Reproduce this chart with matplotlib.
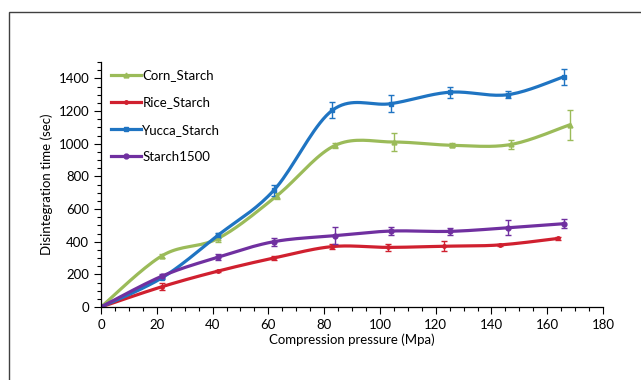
import numpy as np
import matplotlib
matplotlib.use('Agg')
import matplotlib.pyplot as plt
from matplotlib.ticker import MultipleLocator
from matplotlib.patches import Rectangle

plt.rcParams['font.family'] = ['Lato', 'DejaVu Sans']

# ---------------------------------------------------------------- data
corn_x = [0, 22, 42, 63, 84, 105, 126, 147, 168]
corn_y = [0, 315, 420, 680, 990, 1010, 990, 995, 1115]
corn_err = [0, 12, 20, 20, 15, 55, 12, 30, 90]

rice_x = [0, 22, 42, 62, 83, 103, 123, 143, 164]
rice_y = [0, 125, 220, 300, 370, 365, 372, 380, 420]
rice_err = [0, 20, 8, 10, 15, 20, 30, 8, 7]

yucca_x = [0, 22, 42, 62, 83, 104, 125, 146, 166]
yucca_y = [0, 180, 440, 715, 1205, 1245, 1315, 1300, 1410]
yucca_err = [0, 8, 15, 35, 50, 50, 35, 20, 50]

s1500_x = [0, 22, 42, 62, 84, 104, 125, 146, 166]
s1500_y = [0, 190, 305, 400, 437, 465, 463, 485, 510]
s1500_err = [0, 10, 20, 25, 50, 25, 20, 45, 28]

series = [
    ('Corn_Starch', corn_x, corn_y, corn_err, '#9bbb59', '^', 3.5),
    ('Rice_Starch', rice_x, rice_y, rice_err, '#d0202f', 'o', 2.5),
    ('Yucca_Starch', yucca_x, yucca_y, yucca_err, '#1f74c2', 's', 3.5),
    ('Starch1500', s1500_x, s1500_y, s1500_err, '#7030a0', 'o', 3.5),
]


def smooth(x, y, n=20):
    # excel-like smoothed line (catmull-rom through the points)
    x = np.asarray(x, float)
    y = np.asarray(y, float)
    px = np.concatenate([[x[0]], x, [x[-1]]])
    py = np.concatenate([[y[0]], y, [y[-1]]])
    xs, ys = [], []
    t = np.linspace(0, 1, n)
    for i in range(1, len(px) - 2):
        for p, out in ((px, xs), (py, ys)):
            p0, p1, p2, p3 = p[i - 1], p[i], p[i + 1], p[i + 2]
            out.extend(0.5 * ((2 * p1) + (-p0 + p2) * t
                              + (2 * p0 - 5 * p1 + 4 * p2 - p3) * t ** 2
                              + (-p0 + 3 * p1 - 3 * p2 + p3) * t ** 3))
    return xs, ys


fig = plt.figure(figsize=(6.41, 3.80), dpi=100)
fig.patches.append(Rectangle((9 / 641, -0.1), 1.2, 1 - 12 / 380 + 0.1,
                             transform=fig.transFigure, fill=False,
                             edgecolor='#404040', linewidth=1.0))
ax = fig.add_axes([101 / 641, 73 / 380, 502 / 641, 245 / 380])

for name, x, y, err, col, mk, ms in series:
    sx, sy = smooth(x, y)
    ax.plot(sx, sy, color=col, linewidth=2.3, solid_capstyle='round')
    ax.errorbar(x, y, yerr=err, fmt=mk, color=col, markersize=ms,
                ecolor=col, elinewidth=1.0, capsize=2.5, capthick=1.0)
    ax.plot([], [], color=col, linewidth=2.3, marker=mk, markersize=ms, label=name)

ax.set_xlim(0, 180)
ax.set_ylim(0, 1500)
ax.set_xticks(range(0, 181, 20))
ax.set_yticks(range(0, 1401, 200))
ax.xaxis.set_minor_locator(MultipleLocator(5))
ax.yaxis.set_minor_locator(MultipleLocator(50))
ax.tick_params(which='major', direction='out', length=5, width=0.8, labelsize=9.5, colors='black')
ax.tick_params(which='minor', direction='out', length=3, width=0.8)
for s in ['top', 'right']:
    ax.spines[s].set_visible(False)
for s in ['left', 'bottom']:
    ax.spines[s].set_linewidth(0.9)

ax.set_xlabel('Compression pressure (Mpa)', fontsize=9.5, labelpad=2)
ax.set_ylabel('Disintegration time (sec)', fontsize=9.5, labelpad=4)

leg = ax.legend(loc='upper left', bbox_to_anchor=(0.005, 1.0), frameon=False,
                fontsize=9.5, handlelength=2.3, handletextpad=0.1,
                labelspacing=1.15, borderaxespad=0.15)

fig.savefig('out.png', dpi=100)
